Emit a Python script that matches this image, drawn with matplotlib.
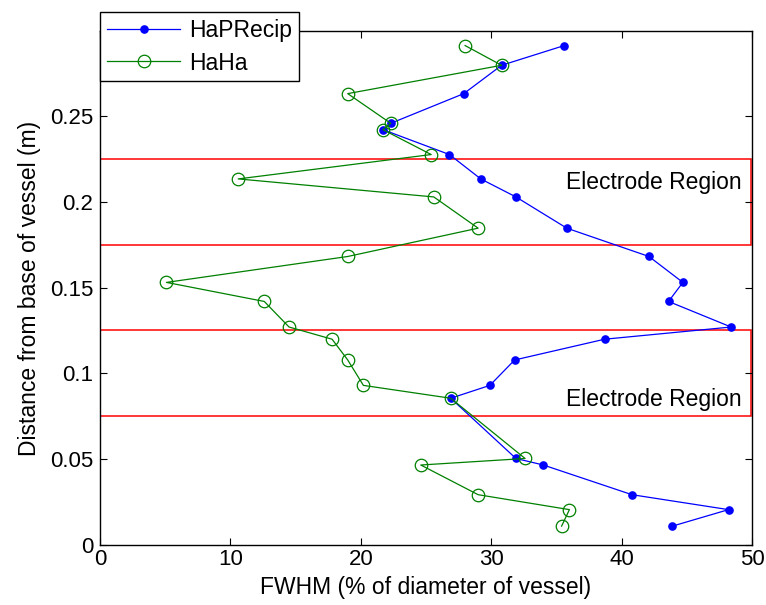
import numpy as np
import matplotlib.pyplot as plt
from matplotlib.patches import Rectangle

plt.rcParams['font.family'] = ['Liberation Sans', 'DejaVu Sans']

# distance from base of vessel (m), shared by both series
height = [0.291, 0.2795, 0.263, 0.2457, 0.242, 0.2275, 0.2133, 0.2028, 0.1846,
          0.1681, 0.153, 0.1419, 0.127, 0.1199, 0.1078, 0.093, 0.0855, 0.0504,
          0.0466, 0.0293, 0.0206, 0.011]

# FWHM (% of diameter of vessel)
fwhm_haprecip = [35.6, 30.8, 27.9, 22.3, 21.7, 26.8, 29.2, 31.9, 35.8, 42.1,
                 44.7, 43.6, 48.4, 38.7, 31.8, 29.9, 26.9, 31.9, 34.0, 40.8,
                 48.2, 43.9]
fwhm_haha = [28.0, 30.8, 19.0, 22.3, 21.7, 25.4, 10.6, 25.6, 29.0, 19.0,
             5.1, 12.6, 14.5, 17.8, 19.0, 20.2, 26.9, 32.6, 24.6, 29.0,
             36.0, 35.4]

# electrode regions (bottom, top) in m
regions = [(0.175, 0.225), (0.075, 0.125)]
region_label = "Electrode Region"

fig = plt.figure(figsize=(7.66, 6.05), dpi=100)
ax = fig.add_axes([0.1305, 0.0992, 0.8512, 0.8496])

for lo, hi in regions:
    ax.add_patch(Rectangle((0, lo), 49.9, hi - lo, fill=False,
                           edgecolor='red', lw=1.1, zorder=1))

ax.plot(fwhm_haprecip, height, color='blue', lw=0.9, marker='o', ms=5.2,
        mfc='blue', mec='blue', label='HaPRecip', zorder=3)
ax.plot(fwhm_haha, height, color=(0, 0.5, 0), lw=0.9, marker='o', ms=9,
        mfc='none', mec=(0, 0.5, 0), mew=0.9, label='HaHa', zorder=4)

ax.text(49.2, 0.2115, region_label, ha='right', va='center', fontsize=16.5)
ax.text(49.2, 0.0845, region_label, ha='right', va='center', fontsize=16.5)

ax.set_xlim(0, 50)
ax.set_ylim(0, 0.2995)
ax.set_xticks([0, 10, 20, 30, 40, 50])
ax.set_yticks([0, 0.05, 0.1, 0.15, 0.2, 0.25])
ax.set_yticklabels(['0', '0.05', '0.1', '0.15', '0.2', '0.25'])
ax.tick_params(direction='in', top=True, right=True, length=5, width=0.8,
               labelsize=16)
ax.tick_params(axis='x', pad=3)
ax.tick_params(axis='y', pad=5)
for s in ax.spines.values():
    s.set_linewidth(1.0)

ax.set_xlabel('FWHM (% of diameter of vessel)', fontsize=16.5, labelpad=4)
ax.set_ylabel('Distance from base of vessel (m)', fontsize=16.5, labelpad=6)

leg = ax.legend(loc='upper left', bbox_to_anchor=(0, 1.036), fontsize=16.5,
                fancybox=False, edgecolor='black', framealpha=1,
                borderaxespad=0, handlelength=3.2, handletextpad=0.4,
                borderpad=0.3, labelspacing=0.4)
leg.get_frame().set_linewidth(1.0)

fig.savefig('out.png', dpi=100)
